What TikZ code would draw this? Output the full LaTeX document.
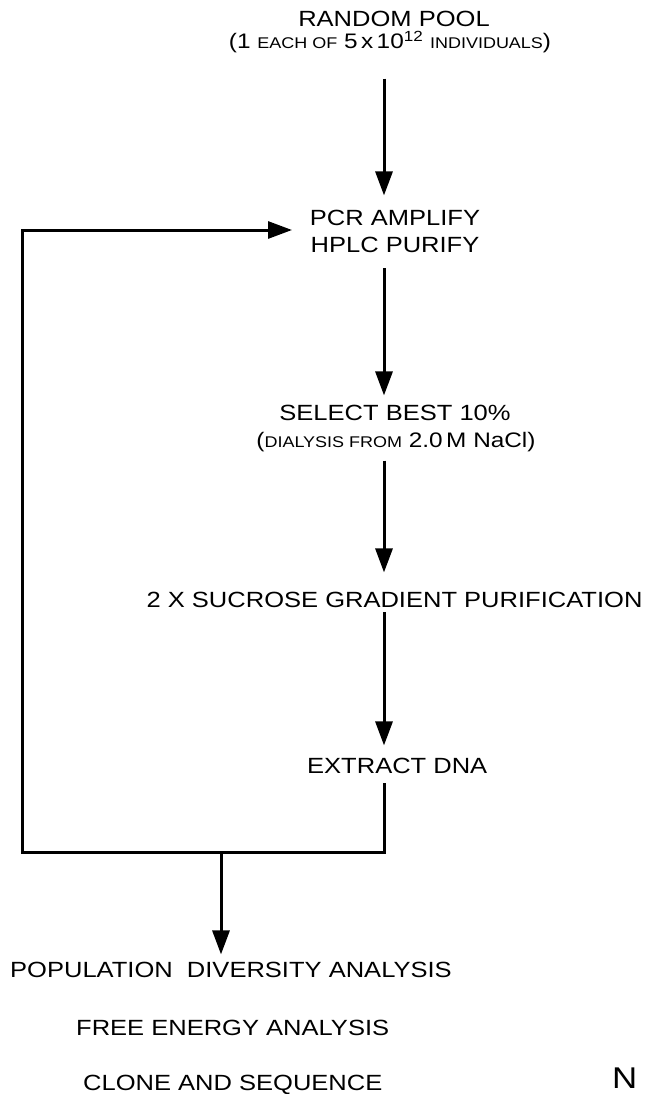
\documentclass[tikz,border=0pt]{standalone}
\usepackage{fontspec}
\setmainfont[FakeStretch=1.16]{Liberation Sans}
\usetikzlibrary{arrows.meta}
\newcommand{\bigsz}{\fontsize{22}{24}\selectfont}
\newcommand{\midsz}{\fontsize{21}{23}\selectfont}
\newcommand{\smsz}{\fontsize{15.5}{17}\selectfont}
\tikzset{
  lbl/.style={inner sep=0pt, font=\bigsz, anchor=base},
  lblw/.style={inner sep=0pt, font=\bigsz, anchor=base west},
  ln/.style={line width=3pt, line join=miter},
  arr/.style={ln, -{Triangle[length=24pt,width=17pt]}}
}
\begin{document}
\begin{tikzpicture}[x=1pt,y=-1pt]
\useasboundingbox (0,0) rectangle (647,1094);
\clip (0,0) rectangle (647,1094);
\coordinate (spine) at (384,0);
\coordinate (join) at (22,852);
\coordinate (feed) at (292,230);
\coordinate (split) at (221,852);

\node[lbl] (pool) at (394,27) {RANDOM POOL};
\node[lbl, font=\midsz] (pool2) at (390,49) {(1 {\smsz EACH OF} 5\,x\,10\textsuperscript{12} {\smsz INDIVIDUALS})};
\node[lbl] (pcr) at (395,225) {PCR AMPLIFY};
\node[lbl] (hplc) at (395,252) {HPLC PURIFY};
\node[lbl] (select) at (395,420) {SELECT BEST 10\%};
\node[lbl, font=\midsz] (dial) at (396,447) {({\smsz DIALYSIS FROM} 2.0\,M NaCl)};
\node[lbl] (sucrose) at (394.5,607) {2 X SUCROSE GRADIENT PURIFICATION};
\node[lblw] (extract) at (307,773) {EXTRACT DNA};
\node[lblw] (pop) at (10,977) {POPULATION~~DIVERSITY ANALYSIS};
\node[lblw] (free) at (76,1035) {FREE ENERGY ANALYSIS};
\node[lblw] (clone) at (83,1090) {CLONE AND SEQUENCE};
\node[inner sep=0pt, anchor=base west, font=\fontsize{30}{32}\selectfont] (nn) at (612,1088) {N};

\draw[arr, shorten <=25pt, shorten >=14pt] (pool2.south -| spine) -- (pcr.north -| spine);
\draw[arr, shorten <=16pt, shorten >=9pt] (hplc.south -| spine) -- (select.north -| spine);
\draw[arr, shorten <=9pt, shorten >=19pt] (dial.south -| spine) -- (sucrose.north -| spine);
\draw[arr, shorten <=5pt, shorten >=12pt] (sucrose.south -| spine) -- (extract.north -| spine);
\draw[arr, shorten <=10pt] (extract.south -| spine) |- (join) |- (feed);
\draw[arr, shorten >=7pt] (split) -- (pop.north -| split);
\end{tikzpicture}
\end{document}
